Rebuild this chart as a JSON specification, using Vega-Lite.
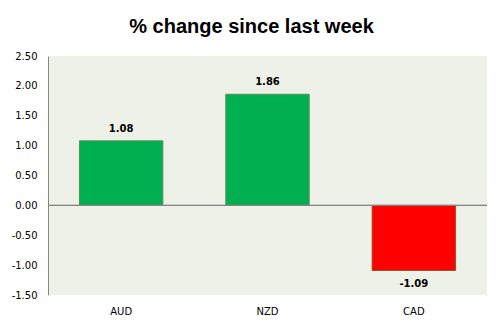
{
  "$schema": "https://vega.github.io/schema/vega-lite/v6.json",
  "autosize": "none",
  "width": 439,
  "height": 239,
  "padding": {"left": 48, "top": 56, "right": 15, "bottom": 34},
  "background": "white",
  "config": {"locale": {"number": {"decimal": ".", "thousands": ",", "grouping": [3], "currency": ["$", ""], "minus": "-"}}},
  "title": {"text": "% change since last week", "font": "Liberation Sans", "fontSize": 20, "fontWeight": "bold", "color": "#000000", "offset": 14, "dx": -16, "anchor": "middle"},
  "view": {"fill": "#EEF1E8", "stroke": null},
  "data": {"values": [
    {"currency": "AUD", "change": 1.08},
    {"currency": "NZD", "change": 1.86},
    {"currency": "CAD", "change": -1.09}
  ]},
  "encoding": {
    "x": {"field": "currency", "type": "nominal", "sort": null,
      "scale": {"paddingInner": 0.43, "paddingOuter": 0.215},
      "axis": {"title": null, "domain": false, "ticks": false, "labelAngle": 0, "labelPadding": 11, "labelFont": "DejaVu Sans", "labelFontSize": 10, "labelColor": "#000000"}},
    "y": {"field": "change", "type": "quantitative",
      "scale": {"domain": [-1.5, 2.5], "nice": false, "zero": false},
      "axis": {"title": null, "grid": false, "ticks": false, "values": [-1.5, -1, -0.5, 0, 0.5, 1, 1.5, 2, 2.5], "format": ".2f", "domainColor": "#868686", "labelPadding": 11, "labelFont": "DejaVu Sans", "labelFontSize": 10, "labelColor": "#000000"}}
  },
  "layer": [
    {
      "mark": {"type": "bar", "strokeWidth": 1},
      "encoding": {
        "fill": {"condition": {"test": "datum.change < 0", "value": "#FF0000"}, "value": "#00B050"},
        "stroke": {"condition": {"test": "datum.change < 0", "value": "#8A5A2A"}, "value": "#5E8F5A"}
      }
    },
    {
      "mark": {"type": "rule", "color": "#868686", "strokeWidth": 1},
      "encoding": {"y": {"datum": 0}, "x": null}
    },
    {
      "transform": [{"filter": "datum.change >= 0"}],
      "mark": {"type": "text", "baseline": "bottom", "dy": -7, "font": "DejaVu Sans", "fontSize": 10, "fontWeight": "bold", "color": "#000000"},
      "encoding": {"text": {"field": "change", "type": "quantitative", "format": ".2f"}}
    },
    {
      "transform": [{"filter": "datum.change < 0"}],
      "mark": {"type": "text", "baseline": "top", "dy": 8, "font": "DejaVu Sans", "fontSize": 10, "fontWeight": "bold", "color": "#000000"},
      "encoding": {"text": {"field": "change", "type": "quantitative", "format": ".2f"}}
    }
  ]
}
